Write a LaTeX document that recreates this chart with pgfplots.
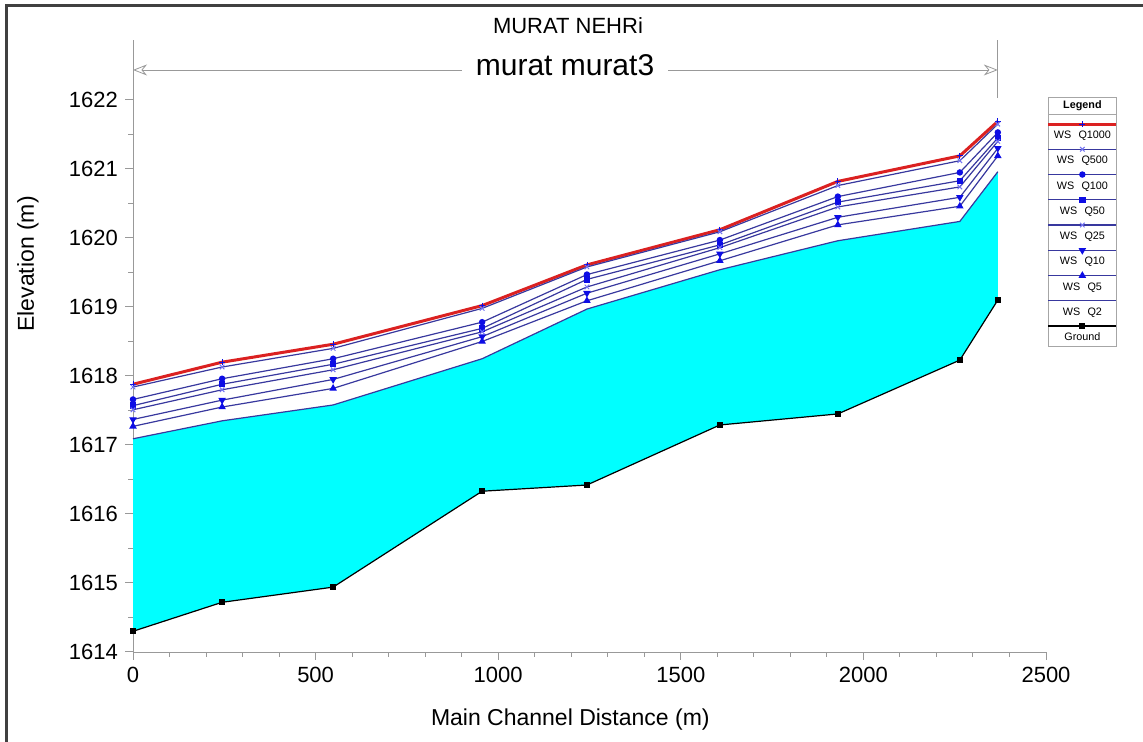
\documentclass[border=0pt]{standalone}
\usepackage{fontspec}
\setmainfont{Liberation Sans}
\usepackage{pgfplots}
\pgfplotsset{compat=1.18}
\usepackage{pgfplotstable}
\usepgfplotslibrary{fillbetween}
\usetikzlibrary{arrows.meta}

\definecolor{wsline}{rgb}{0.22,0.22,0.62}
\definecolor{wsmark}{rgb}{0.05,0.05,0.9}
\definecolor{wslight}{rgb}{0.45,0.45,0.95}
\definecolor{wsred}{rgb}{0.86,0.13,0.13}
\definecolor{framegray}{rgb}{0.25,0.25,0.25}
\definecolor{aqua}{rgb}{0,1,1}

\pgfplotstableread{
x    ground  q2      q5      q10     q25     q50     q100    q500    q1000
0    1614.30 1617.09 1617.27 1617.37 1617.51 1617.57 1617.66 1617.84 1617.88
244  1614.72 1617.35 1617.55 1617.65 1617.80 1617.88 1617.96 1618.13 1618.20
548  1614.94 1617.58 1617.82 1617.95 1618.09 1618.17 1618.25 1618.40 1618.46
956  1616.33 1618.25 1618.50 1618.57 1618.64 1618.69 1618.78 1618.98 1619.02
1243 1616.42 1618.97 1619.09 1619.20 1619.29 1619.40 1619.47 1619.58 1619.61
1607 1617.29 1619.54 1619.67 1619.77 1619.86 1619.90 1619.97 1620.09 1620.12
1930 1617.45 1619.96 1620.19 1620.30 1620.45 1620.52 1620.60 1620.76 1620.82
2264 1618.23 1620.24 1620.46 1620.59 1620.74 1620.83 1620.95 1621.12 1621.19
2368 1619.10 1620.96 1621.19 1621.30 1621.40 1621.45 1621.53 1621.65 1621.69
}\profile

\begin{document}
\begin{tikzpicture}
\begin{axis}[
  scale only axis, width=456.5pt, height=276pt,
  xmin=0, xmax=2500, ymin=1614, ymax=1622,
  axis lines=left, axis line style={-, draw=gray!80},
  clip=false,
  xtick distance=500, ytick distance=1,
  minor x tick num=4, minor y tick num=1,
  tick align=outside, tick style={gray!80, line width=0.5pt},
  major tick length=4pt, minor tick length=2.3pt,
  /pgf/number format/1000 sep={}, /pgf/number format/assume math mode=true,
  tick label style={font=\fontsize{11}{13}\selectfont},
  xlabel={Main Channel Distance (m)}, ylabel={Elevation (m)},
  label style={font=\fontsize{11.5}{14}\selectfont},
  xlabel style={at={(rel axis cs:0.479,-0.123)}, anchor=center},
  ylabel style={at={(rel axis cs:-0.115,0.703)}, anchor=center},
  legend style={
    at={(rel axis cs:1.002,1.0054)}, anchor=north west,
    draw=gray!70, line width=0.4pt, fill=white,
    inner xsep=0pt, inner ysep=0.55pt,
    row sep=5.43pt, column sep=0pt,
    font=\fontsize{5.4}{6.5}\selectfont,
    nodes={text width=33pt, align=center, inner xsep=0.5pt, inner ysep=1pt, text height=4pt, text depth=1.2pt},
    cells={anchor=center},
  },
  legend image code/.code={%
    \path[draw=none, fill=none] (0pt,0pt) -- (0.1pt,0pt);
    \draw[mark repeat=2, mark phase=2, #1, overlay] plot coordinates {(0pt,5.85pt) (17.05pt,5.85pt) (34.1pt,5.85pt)};
  },
]
\addplot[draw=none, name path=G, forget plot] table[x=x,y=ground]{\profile};
\addplot[draw=none, name path=W2, forget plot] table[x=x,y=q2]{\profile};
\addplot[fill=aqua, draw=none, forget plot] fill between[of=W2 and G];

\addlegendimage{legend image code/.code={\path[draw=none, fill=none] (0pt,0pt) -- (0.1pt,-5.97pt); \draw[overlay, gray!70, line width=0.4pt] (0pt,-4.15pt) -- (34.1pt,-4.15pt);}}
\addlegendentry{\textbf{Legend}}

\addplot[wsred, line width=1.5pt, mark=+, mark size=1.5pt, mark options={wsmark, line width=0.4pt}] table[x=x,y=q1000]{\profile};
\addlegendentry{WS\ \ Q1000}
\addplot[wsline, line width=0.6pt, mark=x, mark size=1.6pt, mark options={wslight, line width=0.5pt}] table[x=x,y=q500]{\profile};
\addlegendentry{WS\ \ Q500}
\addplot[wsline, line width=0.6pt, mark=*, mark size=1.3pt, mark options={wsmark}] table[x=x,y=q100]{\profile};
\addlegendentry{WS\ \ Q100}
\addplot[wsline, line width=0.6pt, mark=square*, mark size=1.3pt, mark options={wsmark}] table[x=x,y=q50]{\profile};
\addlegendentry{WS\ \ Q50}
\addplot[wsline, line width=0.6pt, mark=x, mark size=1.6pt, mark options={wslight, line width=0.5pt}] table[x=x,y=q25]{\profile};
\addlegendentry{WS\ \ Q25}
\addplot[wsline, line width=0.6pt, mark=triangle*, mark size=1.6pt, mark options={wsmark, rotate=180}] table[x=x,y=q10]{\profile};
\addlegendentry{WS\ \ Q10}
\addplot[wsline, line width=0.6pt, mark=triangle*, mark size=1.6pt, mark options={wsmark}] table[x=x,y=q5]{\profile};
\addlegendentry{WS\ \ Q5}
\addplot[wsline, line width=0.6pt, mark=none] table[x=x,y=q2]{\profile};
\addlegendentry{WS\ \ Q2}
\addplot[black, line width=0.6pt, mark=square*, mark size=1.2pt, mark options={black}] table[x=x,y=ground]{\profile};
\addlegendentry{Ground}

% annotations
\draw[gray!80] (axis cs:0,1622) -- (axis cs:0,1622.87);
\draw[gray!80] (axis cs:2368,1622.03) -- (axis cs:2368,1622.87);
\draw[gray!80, {Stealth[open,length=7pt,width=5.5pt]}-{Stealth[open,length=7pt,width=5.5pt]}] (axis cs:0,1622.435) -- (axis cs:2368,1622.435);
\node[fill=white, inner xsep=7pt, inner ysep=0pt, anchor=base, font=\fontsize{15}{18}\selectfont] at (axis cs:1183,1622.35) {murat murat3};
\node[anchor=base, inner sep=0pt, font=\fontsize{11}{13}\selectfont] at (axis cs:1191,1622.97) {MURAT NEHRi};
\draw[framegray, line width=1.5pt] (rel axis cs:-0.1391,1.1703) rectangle (rel axis cs:1.1249,-0.1957);
\coordinate (bbsw) at (rel axis cs:-0.14567,-0.16304);
\coordinate (bbne) at (rel axis cs:1.10624,1.18116);
\end{axis}
\pgfresetboundingbox
\path[use as bounding box] (bbsw) rectangle (bbne);
\end{tikzpicture}
\end{document}
